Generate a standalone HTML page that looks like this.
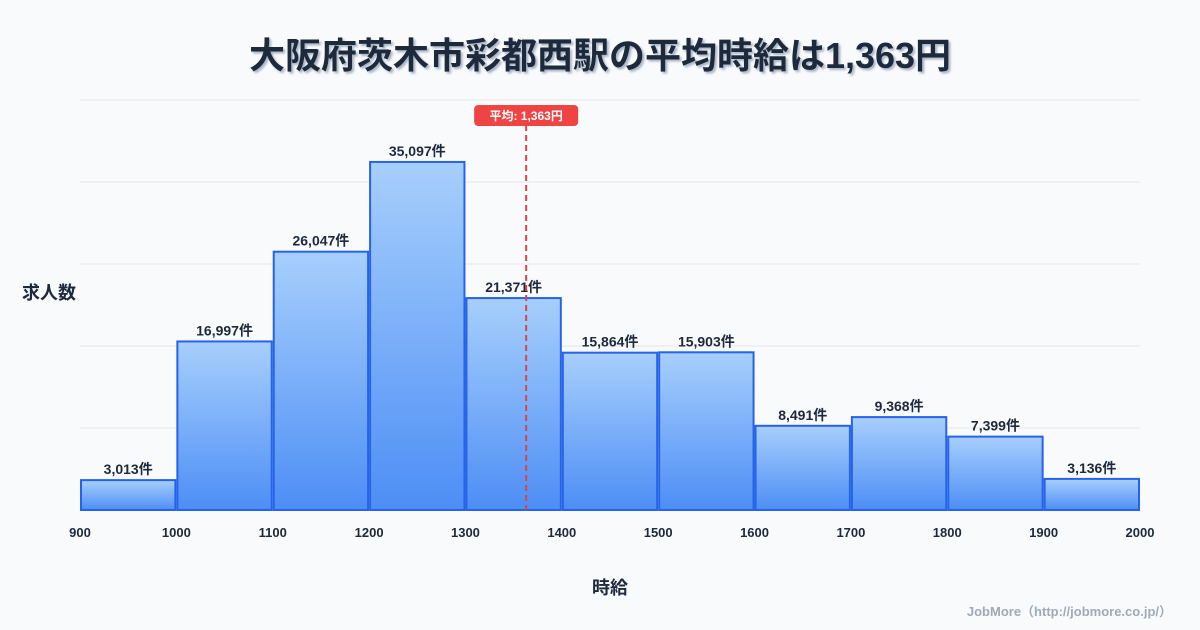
<!DOCTYPE html>
<html><head><meta charset="utf-8"><style>
body{margin:0;background:#f8fafc;}
svg{display:block;font-family:"Liberation Sans","Noto Sans CJK JP",sans-serif;}
</style></head><body>
<svg id="chart" width="1200" height="630" viewBox="0 0 1200 630">
<defs>
<linearGradient id="bg" x1="0" y1="0" x2="0" y2="1"><stop offset="0" stop-color="#a7cffc"/><stop offset="1" stop-color="#4d8ef5"/></linearGradient>
<filter id="sh"><feDropShadow dx="2" dy="2" stdDeviation="1" flood-color="#94a3b8" flood-opacity="0.8"/></filter>
</defs>
<rect width="1200" height="630" fill="#f8fafc"/>
<text x="600" y="68" text-anchor="middle" font-size="36" font-weight="bold" fill="#1e293b" filter="url(#sh)">大阪府茨木市彩都西駅の平均時給は1,363円</text>
<g id="grid"></g><g id="bars"></g><g id="xt"></g>
<text x="22" y="299" font-size="18" font-weight="bold" fill="#1e293b">求人数</text>
<text x="610" y="594" text-anchor="middle" font-size="18" font-weight="bold" fill="#1e293b">時給</text>
<text x="1172" y="616" text-anchor="end" font-size="13" font-weight="bold" fill="#a0aab8">JobMore（http://jobmore.co.jp/）</text>
</svg>
<script>
const binStarts=[900,1000,1100,1200,1300,1400,1500,1600,1700,1800,1900];
const counts=[3013,16997,26047,35097,21371,15864,15903,8491,9368,7399,3136];
const xTicks=[900,1000,1100,1200,1300,1400,1500,1600,1700,1800,1900,2000];
const meanValue=1363;
const ns="http://www.w3.org/2000/svg";
const x0=80,x1=1140,yb=510,yt=100;
const xmin=900,xmax=2000;
const ymax=Math.max(...counts)*1.178;
const X=v=>x0+(v-xmin)/(xmax-xmin)*(x1-x0);
const Y=v=>yb-v/ymax*(yb-yt);
function mk(t,a,p){const e=document.createElementNS(ns,t);for(const k in a)e.setAttribute(k,a[k]);p.appendChild(e);return e;}
const g=document.getElementById('grid');
for(let i=0;i<=5;i++){const y=yt+i*(yb-yt)/5;const l=mk('line',{x1:x0,x2:x1,y1:y,y2:y,stroke:'#e5e7eb','stroke-width':1},g);

}
const b=document.getElementById('bars');
binStarts.forEach((s,i)=>{const xa=X(s)+1,xb=X(s+100)-1,y=Y(counts[i]);
const r=mk('rect',{x:xa,y:y,width:xb-xa,height:yb-y,fill:'url(#bg)',stroke:'#2563eb','stroke-width':2},b);


const t=mk('text',{x:(xa+xb)/2,y:y-6,'text-anchor':'middle','font-size':14,'font-weight':'bold',fill:'#1e293b'},b);
t.textContent=counts[i].toLocaleString('en-US')+'件';

});
const xt=document.getElementById('xt');
xTicks.forEach(v=>{const t=mk('text',{x:X(v),y:537,'text-anchor':'middle','font-size':13,'font-weight':'bold',fill:'#1e293b'},xt);
t.textContent=v;

});
const mx=X(meanValue);
const ml=mk('line',{x1:mx,x2:mx,y1:125,y2:yb,stroke:'#dc4444','stroke-width':2,'stroke-dasharray':'6,4'},xt);


const mr=mk('rect',{x:mx-52,y:105,width:104,height:21,rx:4,fill:'#ef4444'},xt);


const mt=mk('text',{x:mx,y:120,'text-anchor':'middle','font-size':12,'font-weight':'bold',fill:'#fff'},xt);
mt.textContent='平均: '+meanValue.toLocaleString('en-US')+'円';


</script>
</body></html>
